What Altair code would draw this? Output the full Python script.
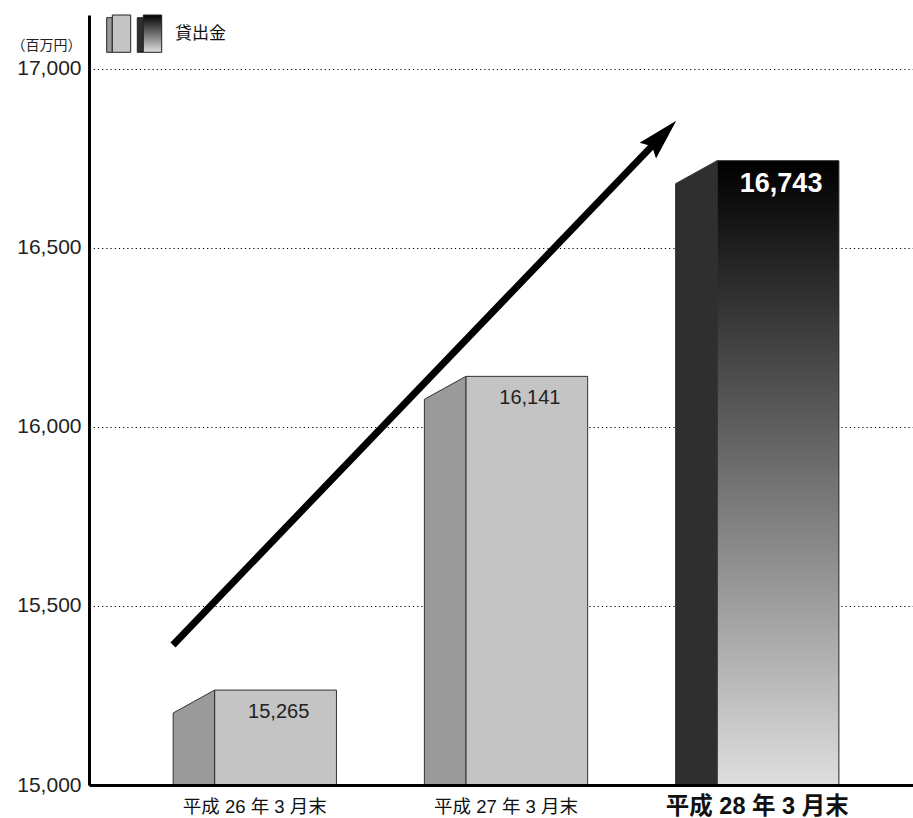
import altair as alt
import pandas as pd

# ---- data ----
PERIODS = ["平成 26 年 3 月末", "平成 27 年 3 月末", "平成 28 年 3 月末"]
VALUES = [15265, 16141, 16743]
Y_TICKS = [15000, 15500, 16000, 16500, 17000]
UNIT = "（百万円）"
LEGEND_LABEL = "貸出金"

FONT = "Liberation Sans, Noto Sans CJK JP, sans-serif"
BASE = 15000
Y_DOMAIN = [15000, 17150]
X_DOMAIN = [-0.66, 2.62]
SIDE_L, SIDE_R, FRONT_R = -0.325, -0.16, 0.325
SKEW = 64  # depth of the 3D side face in value units

bars = pd.DataFrame({
    "period": PERIODS,
    "value": VALUES,
    "idx": list(range(len(VALUES))),
})
bars["fx1"] = bars["idx"] + SIDE_R
bars["fx2"] = bars["idx"] + FRONT_R
bars["label"] = bars["value"].map(lambda v: f"{v:,}")
bars["lx"] = bars["idx"] + 0.095

side_rows = []
for i, v in zip(bars["idx"], bars["value"]):
    side_rows.append({"idx": i, "sx": i + SIDE_L, "top": v - SKEW})
    side_rows.append({"idx": i, "sx": i + SIDE_R, "top": v})
side = pd.DataFrame(side_rows)

xs = alt.Scale(domain=X_DOMAIN, nice=False, zero=False)
ys = alt.Scale(domain=Y_DOMAIN, nice=False, zero=False)

y_axis = alt.Axis(
    values=Y_TICKS, labelExpr="format(datum.value, ',')", grid=True,
    gridColor="#000", gridDash=[1.2, 3], gridWidth=1.1, ticks=False,
    domainColor="#000", domainWidth=3,
    labelFont=FONT, labelFontSize=21, labelColor="#222", labelPadding=8,
    title=UNIT, titleAngle=0, titleX=-8, titleY=30, titleAlign="right",
    titleBaseline="middle", titleFont=FONT, titleFontSize=14,
    titleFontWeight="normal", titleColor="#222",
)
x_axis = alt.Axis(labels=False, ticks=False, grid=False, domainColor="#000",
                  domainWidth=3, title="", zindex=1)


def X(field):
    return alt.X(field, scale=xs, axis=x_axis)


def Y(field):
    return alt.Y(field, scale=ys, axis=y_axis)


grad = alt.Gradient(
    gradient="linear",
    stops=[alt.GradientStop(color="#000000", offset=0),
           alt.GradientStop(color="#dedede", offset=1)],
    x1=0, x2=0, y1=0, y2=1,
)

front = alt.Chart(bars).transform_filter("datum.idx < 2").mark_rect(
    fill="#c4c4c4", stroke="#333", strokeWidth=1
).encode(x=X("fx1:Q"), x2="fx2:Q", y=Y("value:Q"), y2=alt.datum(BASE))

front_hi = alt.Chart(bars).transform_filter("datum.idx == 2").mark_rect(
    fill=grad, stroke="#222", strokeWidth=1
).encode(x=X("fx1:Q"), x2="fx2:Q", y=Y("value:Q"), y2=alt.datum(BASE))

side_layer = alt.Chart(side).mark_area(stroke="#333", strokeWidth=1, opacity=1).encode(
    x=X("sx:Q"), y=Y("top:Q"), y2=alt.datum(BASE),
    detail="idx:N",
    fill=alt.condition("datum.idx == 2", alt.value("#2f2f2f"), alt.value("#9a9a9a")),
)

val_text = alt.Chart(bars).transform_filter("datum.idx < 2").mark_text(
    font=FONT, fontSize=20, color="#222", baseline="middle", dy=22
).encode(x=X("lx:Q"), y=Y("value:Q"), text="label:N")

val_text_hi = alt.Chart(bars).transform_filter("datum.idx == 2").mark_text(
    font=FONT, fontSize=27, fontWeight="bold", color="#ffffff", baseline="middle", dy=23
).encode(x=X("lx:Q"), y=Y("value:Q"), text="label:N")

cat_text = alt.Chart(bars).transform_filter("datum.idx < 2").mark_text(
    font=FONT, fontSize=18.5, color="#111", baseline="middle", dy=22
).encode(x=X("idx:Q"), y=alt.Y(datum=BASE, scale=ys, axis=y_axis), text="period:N")

cat_text_hi = alt.Chart(bars).transform_filter("datum.idx == 2").mark_text(
    font=FONT, fontSize=23.5, fontWeight="bold", color="#111", baseline="middle", dy=22
).encode(x=X("idx:Q"), y=alt.Y(datum=BASE, scale=ys, axis=y_axis), text="period:N")

# trend arrow (annotation)
arrow = pd.DataFrame({
    "ax": [SIDE_L - 0.0006, 2 + SIDE_L - 0.082],
    "ay": [VALUES[0] + 126, VALUES[2] + 50],
})
shaft = alt.Chart(arrow).mark_line(color="#000", strokeWidth=7, strokeCap="butt").encode(
    x=X("ax:Q"), y=Y("ay:Q"),
)
head_df = pd.DataFrame({"hx": [2 + SIDE_L - 0.054], "hy": [VALUES[2] + 70]})
head = alt.Chart(head_df).mark_point(
    shape="M0,-1 L0.55,1 L0,0.7 L-0.55,1 Z", size=1700, filled=True,
    fill="#000", opacity=1, strokeWidth=0, angle=43.6,
).encode(x=X("hx:Q"), y=Y("hy:Q"))

# legend glyphs
one = alt.Data(values=[{"k": 1}])


def rect(x1, x2, y1, y2, fill):
    return alt.Chart(one).mark_rect(fill=fill, stroke="#222", strokeWidth=1).encode(
        x=alt.value(x1), x2=alt.value(x2), y=alt.value(y1), y2=alt.value(y2))


legend = [
    rect(17.7, 23.3, 2.7, 37.3, "#9a9a9a"),
    rect(23.3, 41.7, 0, 37.3, "#c4c4c4"),
    rect(48.3, 54.3, 2.7, 37.3, "#2f2f2f"),
    rect(54.3, 72.7, 0, 37.3, grad),
    alt.Chart(one).mark_text(font=FONT, fontSize=17, color="#111", align="left",
                             baseline="middle").encode(
        x=alt.value(86), y=alt.value(19), text=alt.value(LEGEND_LABEL)),
]

chart = alt.layer(
    front, front_hi, side_layer, val_text, val_text_hi, cat_text, cat_text_hi,
    shaft, head, *legend,
).properties(
    width=824, height=770,
    padding={"left": 89, "top": 15, "right": 0, "bottom": 33},
    autosize=alt.AutoSizeParams(type="none"),
    background="white",
).configure_view(stroke=None)

chart.save("out.html", embed_options={"renderer": "svg", "actions": False})
